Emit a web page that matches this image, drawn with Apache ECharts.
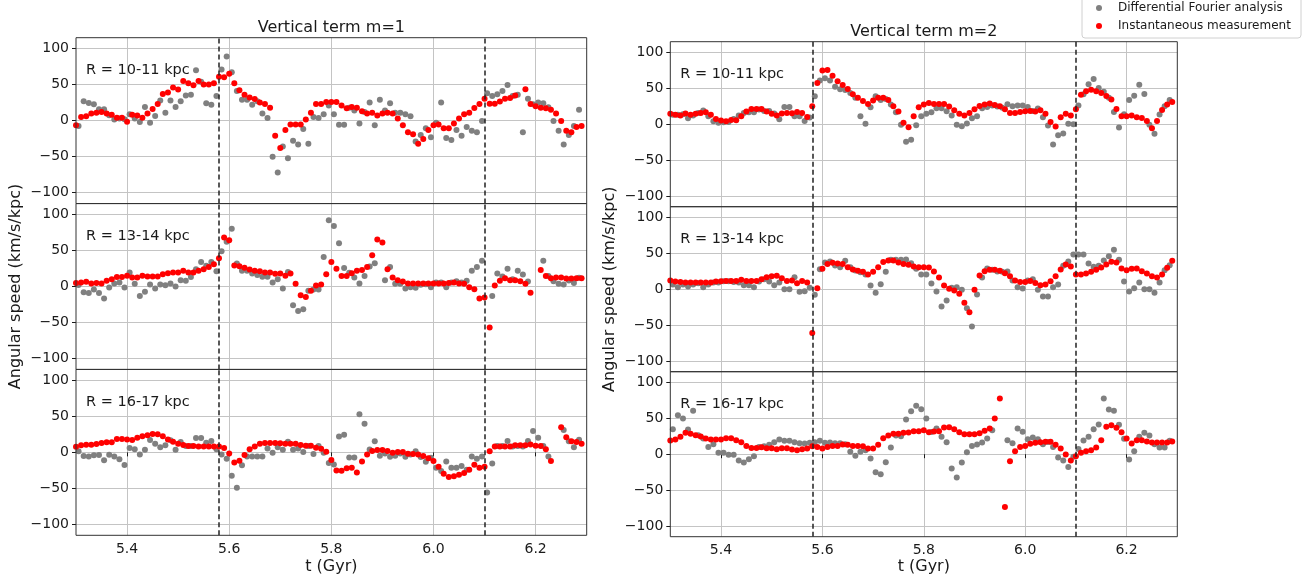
<!DOCTYPE html>
<html><head><meta charset="utf-8">
<script src="https://cdn.jsdelivr.net/npm/echarts@6/dist/echarts.min.js"></script>
<style>html,body{margin:0;padding:0;background:#fff}#chart{width:1306px;height:583px}</style>
</head><body><div id="chart"></div>
<script>
// ---------------- DATA ----------------
// sampling times: instantaneous measurement at 5.30 + 0.01*i, Fourier analysis offset by half a step
const redStart = 5.30, grayStart = 5.305, sampleStep = 0.01;
const columnTitles = ['Vertical term m=1', 'Vertical term m=2'];
const panelLabels = ['R = 10-11 kpc', 'R = 13-14 kpc', 'R = 16-17 kpc'];
const seriesNames = ['Differential Fourier analysis', 'Instantaneous measurement'];
const xTickValues = [5.4, 5.6, 5.8, 6.0, 6.2];
const yTickValues = [-100, -50, 0, 50, 100];
const eventTimes = [5.58, 6.10];
const xLabel = 't (Gyr)';
const yLabel = 'Angular speed (km/s/kpc)';

// m=1
const m1_R10_inst = [-6.5,5,6,10,11,12,10,8,4,4,-1.5,8,7,4,10,16,23,37,39,46,43,55,52,49,55,50,50,52,61,60,65,52,42,36,32,30,25,23,18,-21,-38,-13,-5.5,-5.5,-5.5,1.4,11,23,23,26,26,26,21,17,19,18,13,10,11,7,10,11,10,3,-6.5,-16,-19,-32,-25.5,-13,-6.5,-5.5,-10.5,-10.5,-4,3,9,11,17.5,23,30.5,23.5,23.5,26.5,30.5,31.5,35,null,43.5,23,20,18,17,15,10,-0.5,-14,-16,-9,-7.5];
const m1_R10_four = [-7.4,27,24.5,22.7,15.7,15.7,7.4,1.4,3,2,9,3,-2,19,-3,6.5,28,11,28,19,27,35,36,70,54,24,22,34,71,89,67,41,29,29,22,27,10,3.7,-50,-72,-36,-52,-28,-33,-11.6,-32,5,3.7,8.8,21,9,-5.6,-5.6,18,14,-4,12,25,-6.5,29,14,24,11,11,9,6,-29,-20,-10.6,-23,-3,25,-24,-27,-13,-21,-9,-14,-16,-0.5,38,34,36.6,41,49.5,34,36,-16,30.5,22.7,25,24,18.5,-0.5,-14,-33,-20,-7.4,15];
const m1_R13_inst = [5,5.5,6.5,4,5,4,8,10,13,13,15,12.5,12.5,15,14,14,14,17,18.5,19.4,19.4,21.8,19.4,19.4,21.8,24,27,31,39,68,64,29,28,26,23.6,21.8,21,19.4,19.4,17.6,18,15,18,3.7,-12,-14.4,-6,1.4,2.8,17,34,24.5,14.4,14.4,18.5,21.8,23,27,43.5,65,61,24,12.5,8.8,7,4,4,4,4,4,4,4,4,5,5.5,4,3.7,-1,-3.7,-16.7,-15.3,-57,1.4,8,11.6,8.8,8.8,7.4,3.7,-8.8,null,23,14.4,11.6,12.5,12.5,11,11,11.6,11.6];
const m1_R13_four = [2,-8,-9,-4,-9,-16.7,-1.4,4,5.5,-1.4,19.4,3.7,-13,-7.4,2.8,-2.8,2.8,1.9,4,0,8.8,7.9,13,24,34,28.7,34,21.3,49,62,80,32,22,22,18,16,13.4,13.4,5.5,10,-2.8,20,-26,-34,-31.5,-6,-4,-4,41,92,84,60,25.5,19,12.5,4,14.4,27.8,32.4,null,8.8,27,3.7,3.7,-2.8,-1,-1.9,2.3,3,-1,5.5,5.5,-1,5.5,7.4,5.5,8,21.8,27,35.6,null,-13,18,13.9,24.5,10,21.8,16.7,7,null,null,35.6,14.4,7.4,3.7,2.8,8.3,5,12];
const m1_R16_inst = [7.9,9.7,10.6,10.6,11.6,13,13.9,13.9,18.5,18.5,18,17,20.4,22.2,23.6,25.5,25,22.2,18,14.8,12,10.2,8.8,8.8,8.3,8.3,8.3,8.3,8.3,6,-1.4,-13.9,-11.6,-3.7,4.2,8.3,12,13,13,13,12.5,12,12,12,10.2,9.3,9.3,6.5,5,1,-10.6,-25,-25.5,-22,-21.3,-27.8,-12.5,-2.8,1.9,3.2,3.2,1.9,-0.5,0.5,0.5,-1.9,-2.3,-2.8,-5,-8.3,-12,-19.9,-29.6,-34,-33,-31,-28.7,-24,-17,-21.3,-19.9,1.4,8,8,8,8,9.7,10,10,11,9.3,8.8,4.2,-12,null,34.7,20.8,15.3,14.4,12];
const m1_R16_four = [1.4,-5,-5.6,-4,-3.7,-11,-3.2,-5.6,-9.7,-17.6,6,4.2,-2.8,3.7,17,12,7,9.7,16.7,3.7,14.4,8.8,9,20,20,13.4,15.7,4.2,-2.8,-8.8,-32.4,-49,-18,-5.6,-5.6,-5.6,-5.6,5.5,-0.5,7,3.7,14.8,3.7,5.5,0.5,8.8,-2.3,8.8,-0.5,-14.8,-16.7,22,24.5,-7,-7,52.8,39.8,4,15.3,-4.6,-1.4,-6,-4.6,-1.4,-6,-3,1.4,-6.5,-13,-7.4,-21.3,-26,-12.5,-21.3,-21.3,-19,-24,-5.6,-8.8,-5.6,-55.5,-15.3,8.8,9,15.7,8,9,8,15.7,29.6,20.4,9,-5.6,null,null,31,15.3,7,17.6];
// m=2
const m2_R10_inst = [14.4,13,12,14.8,13,14.4,15.7,16.7,13,7.4,5,4.2,6,5.5,11,17.6,21.3,21.3,21.3,17.6,14.4,12,14.8,15.7,15.3,17,15.7,10,25,57.4,75,75.5,67.6,60,54.6,49,41.7,37,32.4,28.2,32.9,37,37,33.8,25,17.6,1.9,-4.2,11,23.6,27.3,29.6,28.2,28.2,28.2,24.5,19.4,14.4,12,15.7,20.8,25.5,27.3,28.7,26.9,25,20.8,15.7,15.7,17,18,18.5,17.6,19.4,14.4,3.2,-3.2,9.7,14.4,12,20.8,41.2,45.8,48,45.8,43.5,39.4,34.3,21.3,11,11,12,9.7,8.8,4.6,-5.6,4.6,19.9,27.3,31];
const m2_R10_four = [13,13,13.9,8.3,12,15.7,19,11,4.2,1.9,2.8,3.2,7.4,12,15.7,16.7,16.7,20.4,18.5,18.5,14.8,7,24,24,11,11,4.6,9.3,38.9,61,64,61,52.3,48.6,47.7,43.5,37,11,0.5,23.6,38.9,33.8,35,27.3,16.7,-0.9,-24.5,-21.8,-1.4,11,14.4,16.7,22.2,22.2,18,12,-0.9,-2.8,0.9,8.3,11,22.2,24,26,24.5,23,27.8,25,26,26,24,18.5,21.8,9.7,-1.9,-28.2,-15.3,-13,0.5,0,26,41.7,55.6,63,50.5,45.4,37,17,-4.6,13.9,33.8,39.8,55,42,-0.9,-13.4,13.4,25,33.8];
const m2_R13_inst = [12.1,10.7,10.2,9.3,9.3,9.3,9.3,9.3,9.3,10.7,11.2,11.6,11.6,11.6,13,11.6,11.6,11.6,14,16.7,18.1,18.6,15.3,11.6,12.1,8.4,11.6,9.3,-61,1.4,28.4,35,36.7,35.8,35,30.7,27.4,25.6,24.2,20.5,24.2,30.7,38,40,40,37.2,35,34,31.6,30.7,30.7,30.2,24.7,16.3,5.1,0.5,-1.9,-6.5,-19,-32,-0.9,19,25,27,27,25.6,22.3,18.1,12.1,10.2,10.2,11.6,8.8,5.6,6.5,11.2,18.1,27.4,34.4,31.6,20.5,20.5,21.9,24.2,27,30.2,34.4,38.1,37.2,28.8,26.5,28.4,28.8,25.1,21.9,18.1,16.3,20.5,29.8,39.5];
const m2_R13_four = [6.5,2.8,6.5,3.7,6.5,8.4,2.8,6.5,9.3,9.3,11.2,11.2,10.2,9.3,5.6,5.6,2.8,10.7,14,10.7,5.6,9.3,0,0,16.7,-3.7,-2.8,1.9,-7.9,27.9,37.2,38.6,33,30.7,39.5,30.7,26,23.7,20.5,5.1,-5.1,7,24.2,40.9,40.9,40.9,41.4,36.3,28.4,20.5,20.5,7.9,-3.3,-24.2,-15.8,1.9,2.8,-0.9,-26.5,-52,-7.4,16.3,28.8,27,24.7,24.2,24.7,12.1,2.8,0.9,12.1,14,-0.9,-10.2,-10.2,2.8,6.5,32.6,38.6,48.4,48.4,48.4,35.8,31.2,32.6,40,46,54.9,40.9,10.7,-3.3,1.4,9.3,0,0,-5.1,9.3,26.5,33.5];
const m2_R16_inst = [19,20.5,24.2,29.8,28.4,26.5,24.7,21.9,20.5,20.5,20.5,22.3,22.3,19.5,16.7,11.6,8.8,8.8,9.8,8.4,8.4,7,8.4,8.4,6.5,5.6,7,7.9,11.2,10.2,7.9,10.2,11.6,11.6,13.5,13,11.6,11.6,11.2,7.9,7.9,13,22.3,26,28.4,28.4,29.8,30.2,32.1,32.1,33.5,30.7,31.6,32.1,37.2,37.7,34.9,30.7,27.9,27.9,27.9,29.3,32.6,35.8,49.8,77.7,-73.5,-9.8,4.2,10.2,11.6,14.4,15.8,16.7,17.2,17.2,13,7.9,-0.5,-8.8,-2.8,1.9,4.2,5.6,9.3,19.5,38.1,40.5,36.7,30.7,21.9,14.9,19.5,19.5,17.7,16.3,16.3,16.3,16.3,17.7];
const m2_R16_four = [34.9,54.4,49.8,34.4,60.5,26.5,21.9,10.2,14,1.9,1.9,-0.9,-0.9,-8.8,-11.6,-7,-2.8,10.2,11.2,13,16.7,20.5,18.6,18.6,16.7,15.3,14.9,15.8,16.7,18.6,15.8,16.3,15.3,15.3,14,3.3,-2.3,3.3,5.6,-6,-25.1,-27.9,-11.2,9.3,26,25.1,48.4,60,67.4,62.8,49.8,31,35.8,24.2,16.7,-20,-32.6,-11.6,2.8,11.6,13.5,16.3,21.9,33.5,null,null,19.5,15.3,35.8,31.2,20.9,23.3,20.9,14,17,10.2,-4.7,-8.8,-17.7,-3.7,7.4,19.1,24.2,34.9,41.4,77.7,62.3,60.5,40.9,21.4,-7.4,4.2,24.2,29.8,26,14,9.3,9.3,18.6];

const panelsData = [
  [[m1_R10_four, m1_R10_inst], [m1_R13_four, m1_R13_inst], [m1_R16_four, m1_R16_inst]],
  [[m2_R10_four, m2_R10_inst], [m2_R13_four, m2_R13_inst], [m2_R16_four, m2_R16_inst]]
];

// ---------------- LAYOUT / STYLE ----------------
const FONT = 'DejaVu Sans';
const colLeft = [76, 670.3], colRight = [586.7, 1177.3];
const colTop = [37.7, 41.7], colBottom = [535.3, 536.7];
const colors = ['#808080', '#ff0000'];
const INK = '#1a1a1a';

function pairs(start, vals) {
  const out = [];
  vals.forEach((v, i) => { if (v !== null) out.push([+(start + sampleStep * i).toFixed(4), v]); });
  return out;
}

const grids = [], xAxes = [], yAxes = [], series = [], graphics = [];
for (let c = 0; c < 2; c++) {
  const h = (colBottom[c] - colTop[c]) / 3;
  for (let r = 0; r < 3; r++) {
    const idx = c * 3 + r;
    const top = colTop[c] + r * h;
    grids.push({ left: colLeft[c], width: colRight[c] - colLeft[c], top: top, height: h, show: false });
    xAxes.push({
      type: 'value', gridIndex: idx, min: 5.3, max: 6.3, splitNumber: 5,
      axisLine: { show: false },
      axisTick: { show: r === 2, length: 4, customValues: xTickValues, lineStyle: { color: INK } },
      axisLabel: { show: r === 2, customValues: xTickValues, formatter: v => v.toFixed(1), fontFamily: FONT, fontSize: 14, color: INK, margin: 7 },
      splitLine: { show: true, lineStyle: { color: '#c4c4c4', width: 1 } }
    });
    yAxes.push({
      type: 'value', gridIndex: idx, min: -115, max: 115, splitNumber: 5,
      axisLine: { show: false },
      axisTick: { show: true, length: 4, customValues: yTickValues, lineStyle: { color: INK } },
      axisLabel: { customValues: yTickValues, formatter: v => String(v).replace('-', '\u2212'), fontFamily: FONT, fontSize: 14, color: INK, margin: 7 },
      splitLine: { show: true, lineStyle: { color: '#c4c4c4', width: 1 } }
    });
    const [four, inst] = panelsData[c][r];
    series.push({
      name: seriesNames[0], type: 'scatter', xAxisIndex: idx, yAxisIndex: idx,
      data: pairs(grayStart, four), symbolSize: 6, itemStyle: { color: colors[0], opacity: 1 }, z: 2
    });
    series.push({
      name: seriesNames[1], type: 'scatter', xAxisIndex: idx, yAxisIndex: idx,
      data: pairs(redStart, inst), symbolSize: 6, itemStyle: { color: colors[1], opacity: 1 }, z: 3,
      markLine: {
        silent: true, symbol: ['none', 'none'], label: { show: false },
        lineStyle: { color: '#222', type: [5, 3], width: 1.5 },
        data: eventTimes.map(t => ({ xAxis: t }))
      }
    });
    // panel border
    graphics.push({ type: 'rect', z: 100, silent: true,
      shape: { x: colLeft[c], y: top, width: colRight[c] - colLeft[c], height: h },
      style: { fill: null, stroke: '#333', lineWidth: 1 } });
    // panel label
    graphics.push({ type: 'text', z: 100, x: colLeft[c] + 10, y: top + 32.5,
      style: { text: panelLabels[r], font: '14.5px "' + FONT + '"', fill: INK, textVerticalAlign: 'middle' } });
  }
  const cx = (colLeft[c] + colRight[c]) / 2;
  graphics.push({ type: 'text', z: 100, x: cx, y: colTop[c] - 10,
    style: { text: columnTitles[c], font: '16px "' + FONT + '"', fill: INK, textAlign: 'center', textVerticalAlign: 'middle' } });
  graphics.push({ type: 'text', z: 100, x: cx, y: 567,
    style: { text: xLabel, font: '16px "' + FONT + '"', fill: INK, textAlign: 'center', textVerticalAlign: 'middle' } });
  graphics.push({ type: 'text', z: 100, x: colLeft[c] - 60, y: (colTop[c] + colBottom[c]) / 2, rotation: Math.PI / 2,
    style: { text: yLabel, font: '16px "' + FONT + '"', fill: INK, textAlign: 'center', textVerticalAlign: 'middle' } });
}
// legend
graphics.push({ type: 'rect', z: 100, shape: { x: 1082, y: -6, width: 219, height: 44, r: 3 },
  style: { fill: '#fff', stroke: '#d0d0d0', lineWidth: 1 } });
seriesNames.forEach((n, k) => {
  graphics.push({ type: 'circle', z: 101, shape: { cx: 1099, cy: 8 + 18 * k, r: 3 }, style: { fill: colors[k] } });
  graphics.push({ type: 'text', z: 101, x: 1118, y: 8 + 18 * k,
    style: { text: n, font: '12px "' + FONT + '"', fill: INK, textVerticalAlign: 'middle' } });
});

const chart = echarts.init(document.getElementById('chart'), null, { renderer: 'canvas' });
chart.setOption({
  animation: false,
  backgroundColor: '#fff',
  grid: grids, xAxis: xAxes, yAxis: yAxes, series: series, graphic: graphics
});
</script></body></html>
